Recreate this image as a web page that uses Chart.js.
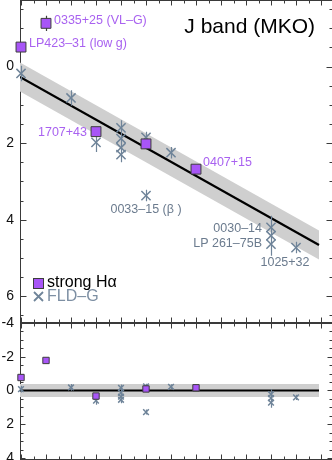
<!DOCTYPE html>
<html>
<head>
<meta charset="utf-8">
<script src="https://cdn.jsdelivr.net/npm/chart.js@4.4.1/dist/chart.umd.min.js"></script>
<style>
  html, body { margin: 0; padding: 0; background: #fff; overflow: hidden; }
  #wrap { position: relative; width: 332px; height: 460px; overflow: hidden; }
  .panel { position: absolute; left: 0; width: 333px; }
  #top { top: 0; height: 323px; }
  #bot { top: 310px; height: 150px; }
</style>
</head>
<body>
<div id="wrap">
  <div class="panel" id="top"><canvas id="mainChart"></canvas></div>
  <div class="panel" id="bot"><canvas id="residChart"></canvas></div>
</div>
<script>
// x = spectral-type step (0 = first column)
const hAlphaX = [0, 1, 3, 5, 7];
const hAlphaMag = [-0.51, -1.13, 1.70, 2.02, 2.68];
const hAlphaResid = [-0.77, -1.78, 0.33, -0.09, -0.16];
const hAlphaErr = [0.1, 0.2, 0.1, 0.1, 0.1];
const hAlphaNames = ['LP423\u201331 (low g)', '0335+25 (VL\u2013G)', '1707+43', '', '0407+15'];

const fldX = [0, 2, 3, 4, 4, 4, 4, 5, 5, 6, 10, 10, 10, 11];
const fldMag = [0.18, 0.82, 1.98, 1.60, 1.88, 2.12, 2.30, 1.85, 3.37, 2.25, 4.20, 4.42, 4.64, 4.73];
const fldResid = [-0.08, -0.18, 0.60, -0.16, 0.14, 0.37, 0.55, -0.25, 1.28, -0.22, 0.22, 0.45, 0.72, 0.41];
const fldErr = [0.2, 0.2, 0.25, 0.2, 0.2, 0.2, 0.2, 0.15, 0.15, 0.15, 0.3, 0.3, 0.3, 0.15];
const fldNames = ['', '', '', '', '', '', '', '', '0033\u201315 (\u03b2 )', '', '0030\u201314', '', 'LP 261\u201375B', '1025+32'];

// polynomial fit and its rms band
const fitX = [-0.04, 11.92];
const fitMag = [0.27, 4.66];
const bandHi = [-0.11, 4.28];
const bandLo = [0.65, 5.04];
const residLine = [0, 0];
const residHi = [-0.39, -0.39];
const residLo = [0.39, 0.39];

const magTicks = [0, 2, 4, 6];
const residTicks = [-4, -2, 0, 2, 4];

const FONT = "'Liberation Sans', Arial, Helvetica, sans-serif";
const COLORS = {
    square: '#a855f7',
    squareEdge: '#3d3d3d',
    sqLabel: '#a962f0',
    cross: '#6f8499',
    crossLabel: '#6b7b8e',
    band: '#cfcfcf',
    frame: '#3a3a3a'
};

// where each name label sits relative to its point
const labelPlace = {
    'LP423\u201331 (low g)': { dx: 8, dy: -4, align: 'left' },
    '0335+25 (VL\u2013G)': { dx: 8, dy: -3, align: 'left' },
    '1707+43': { dx: -9, dy: 1, align: 'right' },
    '0407+15': { dx: 7, dy: -7, align: 'left' },
    '0033\u201315 (\u03b2 )': { dx: 0, dy: 14, align: 'center' },
    '0030\u201314': { dx: -9, dy: 1, align: 'right' },
    'LP 261\u201375B': { dx: -9, dy: -1, align: 'right' },
    '1025+32': { dx: -11, dy: 15, align: 'center' }
};

const pts = (xs, ys) => xs.map((x, i) => ({ x: x, y: ys[i] }));

function frameTicks(yMajorLen) {
    return {
        id: 'frameTicks',
        beforeDatasetsDraw(chart) {
            const { ctx, chartArea: a, scales: { x, y } } = chart;
            const L = Math.round(a.left) + 0.5, R = Math.round(a.right) + 0.5;
            const T = Math.round(a.top) + 0.5, B = Math.round(a.bottom) - 0.5;
            ctx.save();
            ctx.strokeStyle = COLORS.frame;
            ctx.lineWidth = 1;
            ctx.strokeRect(L, T, R - L, B - T);
            ctx.beginPath();
            for (let v = 0; v <= x.max; v += 0.5) {
                const px = Math.round(x.getPixelForValue(v)) + 0.5;
                const len = v % 1 === 0 ? 5 : 3;
                ctx.moveTo(px, T); ctx.lineTo(px, T + len);
                ctx.moveTo(px, B); ctx.lineTo(px, B - len);
            }
            const y0 = Math.ceil(Math.min(y.min, y.max) * 2) / 2;
            for (let v = y0; v <= Math.max(y.min, y.max); v += 0.5) {
                const py = Math.round(y.getPixelForValue(v)) + 0.5;
                const len = v % 2 === 0 ? yMajorLen : 3;
                ctx.moveTo(L, py); ctx.lineTo(L + len, py);
                ctx.moveTo(R, py); ctx.lineTo(R - len, py);
            }
            ctx.stroke();
            ctx.restore();
        }
    };
}

function errorBars(xs, ys, errs, datasetIndex, color) {
    return {
        id: 'errorBars' + datasetIndex,
        beforeDatasetDraw(chart, args) {
            if (args.index !== datasetIndex) return;
            const { ctx, scales: { x, y } } = chart;
            ctx.save();
            ctx.strokeStyle = color;
            ctx.lineWidth = 1.2;
            ctx.beginPath();
            xs.forEach((xv, i) => {
                const px = Math.round(x.getPixelForValue(xv)) + 0.5;
                ctx.moveTo(px, y.getPixelForValue(ys[i] - errs[i]));
                ctx.lineTo(px, y.getPixelForValue(ys[i] + errs[i]));
            });
            ctx.stroke();
            ctx.restore();
        }
    };
}

function yScale(min, max, tickVals) {
    return {
        type: 'linear',
        reverse: true,
        min: min,
        max: max,
        afterBuildTicks: s => { s.ticks = tickVals.map(v => ({ value: v })); },
        afterFit: s => { s.width = 20; s.paddingTop = 0; s.paddingBottom = 0; },
        grid: { display: false, drawTicks: false },
        border: { display: false },
        ticks: {
            padding: 6,
            color: '#111',
            font: { size: 14, family: FONT },
            autoSkip: false,
            callback: v => String(v)
        }
    };
}

const xScale = { type: 'linear', min: -0.04, max: 12.44, display: false };

function baseDatasets(squareData, crossData, lineY, hiY, loY, sqRadius, crossRadius) {
    return [
        {
            data: squareData, order: 0, clip: false,
            pointStyle: 'rect', pointRadius: sqRadius,
            backgroundColor: COLORS.square, borderColor: COLORS.squareEdge, borderWidth: 1
        },
        {
            data: crossData, order: 1, clip: false,
            pointStyle: 'crossRot', pointRadius: crossRadius,
            borderColor: COLORS.cross, borderWidth: 1.5
        },
        {
            data: pts(fitX, lineY), order: 2, showLine: true,
            borderColor: '#000', borderWidth: 2.2, pointRadius: 0
        },
        {
            data: pts(fitX, hiY), order: 3, showLine: true,
            borderWidth: 0, pointRadius: 0, fill: '+1', backgroundColor: COLORS.band
        },
        {
            data: pts(fitX, loY), order: 4, showLine: true,
            borderWidth: 0, pointRadius: 0
        }
    ];
}

function baseOptions(padTop) {
    return {
        responsive: true,
        maintainAspectRatio: false,
        animation: false,
        layout: { autoPadding: false, padding: { left: 0, right: 1, top: padTop, bottom: 0 } },
        plugins: { legend: { display: false }, tooltip: { enabled: false } }
    };
}

// Name labels, title and legend of the main panel
const mainDecor = {
    id: 'mainDecor',
    afterDatasetsDraw(chart) {
        const { ctx, scales: { x, y } } = chart;
        ctx.save();
        ctx.font = '12.5px ' + FONT;
        ctx.textBaseline = 'middle';
        const put = (name, xv, yv, color) => {
            const p = labelPlace[name];
            if (!p) return;
            ctx.fillStyle = color;
            ctx.textAlign = p.align;
            ctx.fillText(name, x.getPixelForValue(xv) + p.dx, y.getPixelForValue(yv) + p.dy);
        };
        hAlphaNames.forEach((n, i) => put(n, hAlphaX[i], hAlphaMag[i], COLORS.sqLabel));
        fldNames.forEach((n, i) => put(n, fldX[i], fldMag[i], COLORS.crossLabel));

        ctx.textBaseline = 'alphabetic';
        ctx.textAlign = 'right';
        ctx.fillStyle = '#000';
        ctx.font = '21px ' + FONT;
        ctx.fillText('J band (MKO)', 315, 33);

        // legend
        ctx.fillStyle = COLORS.square;
        ctx.strokeStyle = COLORS.squareEdge;
        ctx.lineWidth = 1;
        ctx.fillRect(33.5, 278.5, 10, 10);
        ctx.strokeRect(33.5, 278.5, 10, 10);
        ctx.strokeStyle = COLORS.cross;
        ctx.lineWidth = 1.8;
        ctx.beginPath();
        ctx.moveTo(34, 292); ctx.lineTo(43, 301);
        ctx.moveTo(43, 292); ctx.lineTo(34, 301);
        ctx.stroke();
        ctx.textAlign = 'left';
        ctx.font = '16px ' + FONT;
        ctx.fillStyle = '#000';
        ctx.fillText('strong H\u03b1', 47, 287);
        ctx.fillStyle = '#7d8fa3';
        ctx.fillText('FLD\u2013G', 47, 301);
        ctx.restore();
    }
};

new Chart(document.getElementById('mainChart'), {
    type: 'scatter',
    data: {
        datasets: baseDatasets(pts(hAlphaX, hAlphaMag), pts(fldX, fldMag), fitMag, bandHi, bandLo, 7, 6.5)
    },
    options: Object.assign(baseOptions(0), {
        scales: { x: xScale, y: yScale(-1.74, 6.70, magTicks) }
    }),
    plugins: [
        frameTicks(6),
        errorBars(hAlphaX, hAlphaMag, hAlphaErr, 0, COLORS.squareEdge),
        errorBars(fldX, fldMag, fldErr, 1, COLORS.cross),
        mainDecor
    ]
});

// residual panel canvas starts 13px higher so the "-4" label is not cut off
new Chart(document.getElementById('residChart'), {
    type: 'scatter',
    data: {
        datasets: baseDatasets(pts(hAlphaX, hAlphaResid), pts(fldX, fldResid), residLine, residHi, residLo, 4.5, 4)
    },
    options: Object.assign(baseOptions(13), {
        scales: { x: xScale, y: yScale(-4, 4.12, residTicks) }
    }),
    plugins: [
        frameTicks(5),
        errorBars(fldX, fldResid, fldErr, 1, COLORS.cross)
    ]
});
</script>
</body>
</html>
